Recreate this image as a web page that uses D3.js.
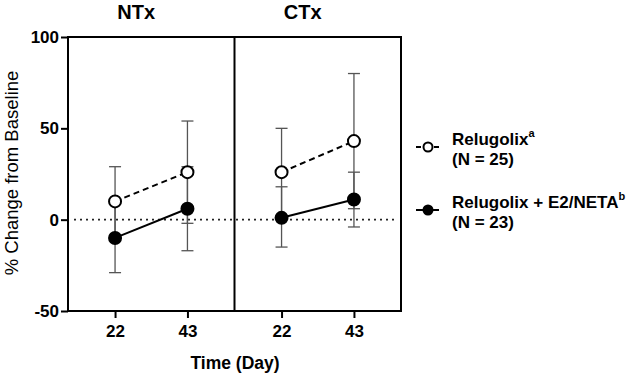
<!DOCTYPE html>
<html>
<head>
<meta charset="utf-8">
<script src="https://cdn.jsdelivr.net/npm/d3@7"></script>
<style>
  body { margin: 0; background: #fff; }
  svg { font-family: "Liberation Sans", Arial, sans-serif; font-weight: bold; }
</style>
</head>
<body>
<svg id="chart" width="644" height="378"></svg>
<script>
const panels = ["NTx", "CTx"];
const days = [22, 43];
const yTicks = [-50, 0, 50, 100];

// mean, lower, upper per panel/day
const relugolixMean = { NTx: [10, 26], CTx: [26, 43] };
const relugolixLow  = { NTx: [-9, -2], CTx: [2, 6] };
const relugolixHigh = { NTx: [29, 54], CTx: [50, 80] };

const comboMean = { NTx: [-10, 6], CTx: [1, 11] };
const comboLow  = { NTx: [-29, -17], CTx: [-15, -4] };
const comboHigh = { NTx: [9, 29], CTx: [18, 26] };

const svg = d3.select("#chart");
const margin = { top: 37, left: 68, bottom: 311, right: 401 };

const y = d3.scaleLinear().domain([-50, 100]).range([margin.bottom, margin.top]);
const panelScale = d3.scaleBand().domain(panels).range([margin.left, margin.right]);
const x = d3.scalePoint().domain(days).range([0, panelScale.bandwidth()]).padding(0.65);

const series = [
  { name: "Relugolix", mean: relugolixMean, low: relugolixLow, high: relugolixHigh, fill: "#fff", dash: "6,4" },
  { name: "Combo", mean: comboMean, low: comboLow, high: comboHigh, fill: "#000", dash: null }
];

// zero line
svg.append("line")
  .attr("x1", margin.left + 6).attr("x2", margin.right - 5)
  .attr("y1", y(0)).attr("y2", y(0))
  .attr("stroke", "#222").attr("stroke-width", 1.6)
  .attr("stroke-dasharray", "2,4");

panels.forEach(p => {
  const g = svg.append("g").attr("transform", `translate(${panelScale(p)},0)`);

  // panel title
  svg.append("text")
    .attr("x", panelScale(p) + panelScale.bandwidth() / 2 - 15)
    .attr("y", 19)
    .attr("text-anchor", "middle")
    .attr("font-size", 20)
    .text(p);

  // error bars
  series.forEach(s => {
    days.forEach((d, i) => {
      const cx = x(d);
      g.append("line")
        .attr("x1", cx).attr("x2", cx)
        .attr("y1", y(s.low[p][i])).attr("y2", y(s.high[p][i]))
        .attr("stroke", "#555").attr("stroke-width", 1.3);
      [s.low[p][i], s.high[p][i]].forEach(v => {
        g.append("line")
          .attr("x1", cx - 6).attr("x2", cx + 6)
          .attr("y1", y(v)).attr("y2", y(v))
          .attr("stroke", "#555").attr("stroke-width", 1.3);
      });
    });
  });

  // lines and markers
  series.forEach(s => {
    const pts = days.map((d, i) => ({ d, v: s.mean[p][i] }));
    g.append("path")
      .datum(pts)
      .attr("fill", "none")
      .attr("stroke", "#000")
      .attr("stroke-width", 2)
      .attr("stroke-dasharray", s.dash)
      .attr("d", d3.line().x(e => x(e.d)).y(e => y(e.v)));
    g.selectAll(null)
      .data(pts)
      .join("circle")
      .attr("cx", e => x(e.d))
      .attr("cy", e => y(e.v))
      .attr("r", 6)
      .attr("fill", s.fill)
      .attr("stroke", "#000")
      .attr("stroke-width", 2);
  });

  // x axis
  const ax = g.append("g")
    .attr("transform", `translate(0,${margin.bottom})`)
    .call(d3.axisBottom(x).tickSize(7).tickPadding(7));
  ax.select(".domain").remove();
  ax.selectAll("line").attr("stroke", "#000").attr("stroke-width", 2);
  ax.selectAll("text").attr("font-size", 17).attr("font-family", null).attr("fill", "#000");
});

// frame
svg.append("rect")
  .attr("x", margin.left).attr("y", margin.top)
  .attr("width", margin.right - margin.left)
  .attr("height", margin.bottom - margin.top)
  .attr("fill", "none").attr("stroke", "#000").attr("stroke-width", 2);
svg.append("line")
  .attr("x1", panelScale("CTx")).attr("x2", panelScale("CTx"))
  .attr("y1", margin.top).attr("y2", margin.bottom)
  .attr("stroke", "#000").attr("stroke-width", 2);

// y axis (plain hyphen for negatives, as in the original)
const ay = svg.append("g")
  .attr("transform", `translate(${margin.left},0)`)
  .call(d3.axisLeft(y).tickValues(yTicks).tickSize(7).tickPadding(2).tickFormat(d => String(d)));
ay.select(".domain").remove();
ay.selectAll("line").attr("stroke", "#000").attr("stroke-width", 2);
ay.selectAll("text").attr("font-size", 17).attr("font-family", null).attr("fill", "#000");

// axis labels
svg.append("text")
  .attr("transform", "rotate(-90)")
  .attr("x", -(margin.top + margin.bottom) / 2 + 1)
  .attr("y", 18)
  .attr("text-anchor", "middle")
  .attr("font-size", 18.5)
  .attr("font-weight", "normal")
  .text("% Change from Baseline");

svg.append("text")
  .attr("x", 235)
  .attr("y", 369)
  .attr("text-anchor", "middle")
  .attr("font-size", 17.5)
  .text("Time (Day)");

// legend
const legend = [
  { lines: ["Relugolix", "(N = 25)"], sup: "a", fill: "#fff", dash: "5,4", y: 147 },
  { lines: ["Relugolix + E2/NETA", "(N = 23)"], sup: "b", fill: "#000", dash: null, y: 210 }
];
legend.forEach(l => {
  svg.append("line")
    .attr("x1", 416).attr("x2", 439)
    .attr("y1", l.y).attr("y2", l.y)
    .attr("stroke", "#000").attr("stroke-width", 2)
    .attr("stroke-dasharray", l.dash);
  svg.append("circle")
    .attr("cx", 428).attr("cy", l.y).attr("r", 4.5)
    .attr("fill", l.fill).attr("stroke", "#000").attr("stroke-width", 2);
  const t = svg.append("text")
    .attr("x", 452).attr("y", l.y - 2)
    .attr("font-size", 17);
  t.append("tspan").text(l.lines[0]);
  t.append("tspan").attr("dy", -8).attr("font-size", 11).text(l.sup);
  svg.append("text")
    .attr("x", 452).attr("y", l.y + 18)
    .attr("font-size", 17)
    .text(l.lines[1]);
});
</script>
</body>
</html>
